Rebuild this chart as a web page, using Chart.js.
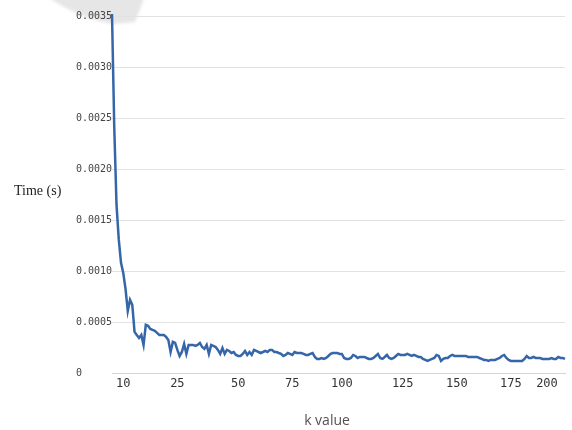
<!DOCTYPE html>
<html>
<head>
<meta charset="utf-8">
<script src="https://cdn.jsdelivr.net/npm/chart.js@4/dist/chart.umd.min.js"></script>
<style>
  html, body { margin: 0; padding: 0; background: #fff; }
  #grafico { display: block; }
</style>
</head>
<body>
<canvas id="grafico" width="572" height="430"></canvas>
<script>
// measured run times (s), one per sample of k
const tempos = [
  0.00352, 0.00241, 0.00165, 0.00131, 0.00108, 0.00098, 0.000825, 0.000609, 0.000717, 0.000668,
  0.000403, 0.000373, 0.000344, 0.000373, 0.000275, 0.000472, 0.000462, 0.000432, 0.000422, 0.000413,
  0.000393, 0.000373, 0.000373, 0.000373, 0.000354, 0.000324, 0.000206, 0.000305, 0.000295, 0.000226,
  0.000167, 0.000206, 0.000285, 0.000187, 0.000275, 0.000275, 0.000275, 0.000265, 0.000275, 0.000295,
  0.000255, 0.000236, 0.000275, 0.000187, 0.000275, 0.000265, 0.000255, 0.000226, 0.000187, 0.000245,
  0.000187, 0.000226, 0.000216, 0.000196, 0.000206, 0.000177, 0.000167, 0.000167, 0.000187, 0.000216,
  0.000177, 0.000206, 0.000177, 0.000226, 0.000216, 0.000206, 0.000196, 0.000206, 0.000216, 0.000206,
  0.000226, 0.000226, 0.000206, 0.000206, 0.000196, 0.000187, 0.000167, 0.000177, 0.000196, 0.000187,
  0.000177, 0.000206, 0.000196, 0.000196, 0.000196, 0.000187, 0.000177, 0.000177, 0.000187, 0.000196,
  0.000157, 0.000138, 0.000138, 0.000147, 0.000138, 0.000147, 0.000167, 0.000187, 0.000196, 0.000196,
  0.000196, 0.000187, 0.000187, 0.000147, 0.000138, 0.000138, 0.000147, 0.000177, 0.000167, 0.000147,
  0.000157, 0.000157, 0.000157, 0.000147, 0.000138, 0.000138, 0.000147, 0.000167, 0.000187, 0.000147,
  0.000138, 0.000157, 0.000177, 0.000147, 0.000138, 0.000147, 0.000167, 0.000187, 0.000177, 0.000177,
  0.000177, 0.000187, 0.000177, 0.000167, 0.000177, 0.000167, 0.000157, 0.000157, 0.000138, 0.000128,
  0.000118, 0.000128, 0.000138, 0.000147, 0.000177, 0.000167, 0.000118, 0.000138, 0.000147, 0.000147,
  0.000167, 0.000177, 0.000167, 0.000167, 0.000167, 0.000167, 0.000167, 0.000167, 0.000157, 0.000157,
  0.000157, 0.000157, 0.000157, 0.000147, 0.000138, 0.000128, 0.000128, 0.000118, 0.000128, 0.000128,
  0.000128, 0.000138, 0.000147, 0.000167, 0.000177, 0.000147, 0.000128, 0.000118, 0.000118, 0.000118,
  0.000118, 0.000118, 0.000118, 0.000138, 0.000167, 0.000147, 0.000147, 0.000157, 0.000147, 0.000147,
  0.000147, 0.000138, 0.000138, 0.000138, 0.000138, 0.000147, 0.000138, 0.000138, 0.000157, 0.000147,
  0.000147, 0.000138
];

// k values printed under the axis, and the sample each one belongs to
const rotulosK = ['10', '25', '50', '75', '100', '125', '150', '175', '200'];
const amostraDoRotulo = [5, 29, 56, 80, 102, 129, 153, 177, 193];

const labels = tempos.map(() => '');
rotulosK.forEach((r, i) => { labels[amostraDoRotulo[i]] = r; });

// grey shadow at the top and the two axis captions
const extras = {
  id: 'extras',
  beforeDraw(chart) {
    const ctx = chart.ctx;
    ctx.save();
    ctx.fillStyle = '#fff';
    ctx.fillRect(0, 0, chart.width, chart.height);
    ctx.filter = 'blur(1.5px)';
    ctx.fillStyle = '#e6e6e6';
    ctx.beginPath();
    ctx.moveTo(46, -4);
    ctx.bezierCurveTo(64, 8, 90, 22, 116, 24);
    ctx.lineTo(135, 22);
    ctx.lineTo(145, -4);
    ctx.closePath();
    ctx.fill();
    ctx.restore();
  },
  afterDraw(chart) {
    const ctx = chart.ctx;
    ctx.save();
    ctx.textBaseline = 'middle';
    ctx.textAlign = 'left';
    ctx.fillStyle = '#222';
    ctx.font = '14px "Liberation Serif"';
    ctx.fillText('Time (s)', 14, 191);
    ctx.textAlign = 'center';
    ctx.fillStyle = '#5a4f4f';
    ctx.font = '14px "Open Sans"';
    ctx.fillText('k value', 327, 421);
    ctx.restore();
  }
};

new Chart(document.getElementById('grafico'), {
  type: 'line',
  data: {
    labels: labels,
    datasets: [{
      data: tempos,
      borderColor: '#3566a9',
      borderWidth: 2.5,
      pointRadius: 0,
      tension: 0,
      fill: false,
      clip: false
    }]
  },
  options: {
    responsive: false,
    animation: false,
    layout: { padding: { left: 76, right: 7, top: 16, bottom: 0 } },
    plugins: {
      legend: { display: false },
      tooltip: { enabled: false }
    },
    scales: {
      x: {
        grid: { display: false, drawTicks: false },
        border: { display: true, color: '#d4d4d4' },
        ticks: {
          autoSkip: false,
          maxRotation: 0,
          padding: 4,
          color: '#333',
          font: { family: 'DejaVu Sans Mono', size: 12 }
        },
        afterFit(scale) { scale.height = 57; }
      },
      y: {
        min: 0,
        max: 0.0035,
        grid: { color: '#e2e2e2', drawTicks: false },
        border: { display: false },
        ticks: {
          stepSize: 0.0005,
          crossAlign: 'far',
          color: '#444',
          font: { family: 'DejaVu Sans Mono', size: 10 },
          callback: v => v === 0 ? '0' : v.toFixed(4)
        },
        afterFit(scale) { scale.width = 36; }
      }
    }
  },
  plugins: [extras]
});
</script>
</body>
</html>
